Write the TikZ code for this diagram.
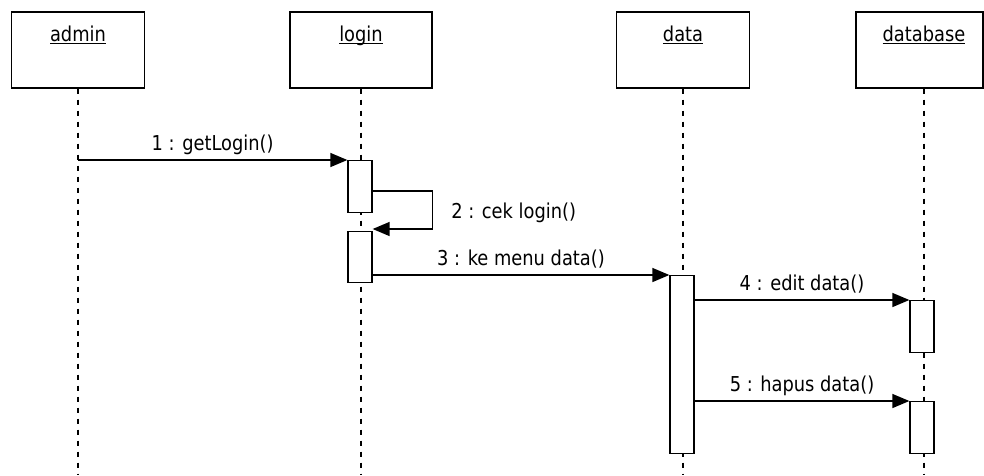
\documentclass[tikz,border=0pt]{standalone}
\usepackage{fontspec}
\setmainfont[FakeStretch=0.87]{DejaVu Sans}
\usetikzlibrary{arrows.meta}

% underline at a fixed depth, descenders run through it
\newcommand{\objname}[1]{\setbox0\hbox{#1}\rlap{\rule[-2.5pt]{\wd0}{1.2pt}}\box0}

\tikzset{
  objbox/.style={draw, line width=1.4pt, fill=white, minimum width=133pt, minimum height=76pt, inner sep=0pt},
  objlabel/.style={font=\fontsize{20.5}{22}\selectfont, inner sep=0pt, anchor=base},
  lifeline/.style={line width=1.3pt, dash pattern=on 5pt off 6pt},
  act/.style={draw, line width=1.3pt, fill=white, minimum width=24pt, inner sep=0pt, anchor=north},
  msg/.style={line width=1.4pt, -{Triangle[length=17pt,width=14pt]}},
  msglabel/.style={font=\fontsize{20.5}{22}\selectfont, inner sep=0pt, anchor=base},
}

\begin{document}
\begin{tikzpicture}[x=1pt,y=-1pt]
\useasboundingbox (0,0) rectangle (984,475);
\coordinate (bottom) at (0,475);

% objects
\node[objbox] (admin) at (78,50) {};
\node[objbox, minimum width=142pt] (login) at (361,50) {};
\node[objbox] (data) at (683,50) {};
\node[objbox, minimum width=127pt] (database) at (919.5,50) {};

\path (admin.north) ++(0,30) node[objlabel] (adminlbl) {\objname{admin}};
\path (login.north) ++(0,30) node[objlabel] (loginlbl) {\objname{login}};
\path (data.north) ++(0,30) node[objlabel] (datalbl) {\objname{data}};
\path (database.north) ++(4.5,30) node[objlabel] (databaselbl) {\objname{database}};

% lifelines
\draw[lifeline] (admin.south) -- (admin.south |- bottom);
\draw[lifeline] (login.south) -- (login.south |- bottom);
\draw[lifeline] (data.south) -- (data.south |- bottom);
\draw[lifeline] ([xshift=4.5pt]database.south) -- ([xshift=4.5pt]database.south |- bottom);

% activations
\node[act, minimum height=52pt] (act1) at (360,160) {};
\node[act, minimum height=51pt] (act2) at (360,231) {};
\node[act, minimum height=178pt] (act3) at (682,275) {};
\node[act, minimum height=52pt] (act4) at (922,300) {};
\node[act, minimum height=52pt] (act5) at (922,401) {};

% messages
\draw[msg] (admin.south |- act1.north) -- (act1.north west)
  node[msglabel, midway, yshift=10pt] {1 : getLogin()};
\draw[msg] ([yshift=-31pt]act1.north east) -- ++(60,0) |- ([yshift=2pt]act2.north east)
  node[msglabel, pos=0.25, anchor=base west, xshift=18pt, yshift=-8pt] {2 : cek login()};
\draw[msg] (act2.east |- act3.north) -- (act3.north west)
  node[msglabel, midway, yshift=10pt] {3 : ke menu data()};
\draw[msg] (act3.east |- act4.north) -- (act4.north west)
  node[msglabel, midway, yshift=10pt] {4 : edit data()};
\draw[msg] (act3.east |- act5.north) -- (act5.north west)
  node[msglabel, midway, yshift=10pt] {5 : hapus data()};
\end{tikzpicture}
\end{document}
